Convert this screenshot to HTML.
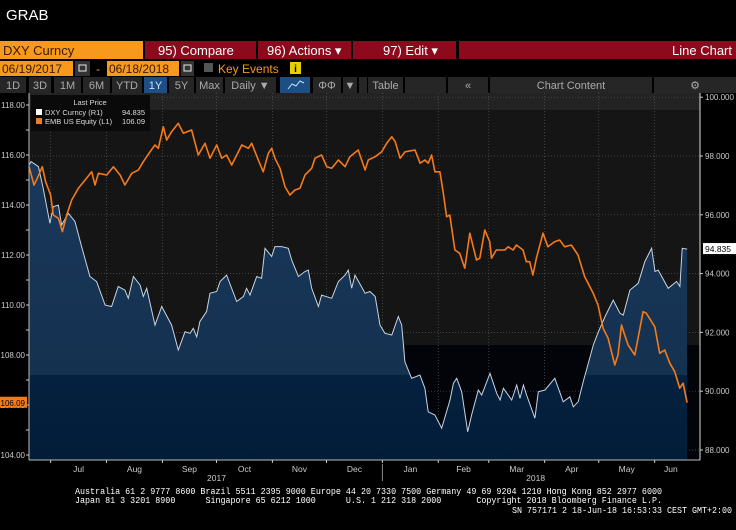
<!DOCTYPE html>
<html><head><meta charset="utf-8"><style>
html,body{margin:0;padding:0;background:#000;width:736px;height:530px;overflow:hidden}
svg{display:block}
text{font-family:"Liberation Sans",sans-serif}
.mono{font-family:"Liberation Mono",monospace}
</style></head><body>
<svg id="c" width="736" height="530" xmlns="http://www.w3.org/2000/svg">
<rect width="736" height="530" fill="#000"/>
<text x="6" y="20" fill="#fff" font-size="15">GRAB</text>
<!-- toolbar row 1 -->
<rect x="0" y="41" width="143" height="18" fill="#f7991c"/>
<text x="3" y="55" font-size="13" fill="#3a1a00">DXY Curncy</text>
<rect x="145" y="41" width="111" height="18" fill="#8b0a1c"/>
<text x="158" y="55" font-size="13" fill="#fff">95) Compare</text>
<rect x="258" y="41" width="93" height="18" fill="#8b0a1c"/>
<text x="267" y="55" font-size="13" fill="#fff">96) Actions ▾</text>
<rect x="353" y="41" width="103" height="18" fill="#8b0a1c"/>
<text x="383" y="55" font-size="13" fill="#fff">97) Edit   ▾</text>
<rect x="459" y="41" width="277" height="18" fill="#8b0a1c"/>
<text x="732" y="55" font-size="13" fill="#fff" text-anchor="end">Line Chart</text>
<!-- row 2 -->
<rect x="0" y="61" width="73" height="15" fill="#f7991c"/>
<text x="2" y="73" font-size="12" fill="#3a1a00">06/19/2017</text>
<rect x="75" y="61" width="15" height="15" fill="#333"/>
<rect x="79" y="65" width="7" height="6" fill="none" stroke="#ccc" stroke-width="1.2"/>
<text x="96" y="73" font-size="12" fill="#f7991c">-</text>
<rect x="107" y="61" width="72" height="15" fill="#f7991c"/>
<text x="109" y="73" font-size="12" fill="#3a1a00">06/18/2018</text>
<rect x="181" y="61" width="13" height="15" fill="#333"/>
<rect x="184" y="65" width="7" height="6" fill="none" stroke="#ccc" stroke-width="1.2"/>
<rect x="204" y="63" width="9" height="9" fill="#555"/>
<text x="218" y="73" font-size="12" fill="#f7991c">Key Events</text>
<rect x="290" y="62" width="11" height="12" fill="#e8d000"/>
<text x="295.5" y="72" font-size="10" fill="#000" text-anchor="middle" font-weight="bold">i</text>
<!-- row 3 -->
<g id="row3" font-size="11" fill="#aaa"></g>
<!-- plot -->
<g id="plot"></g>
<!-- footer -->
<text class="mono" x="75" y="494" font-size="9.5" fill="#fff" textLength="587" lengthAdjust="spacingAndGlyphs">Australia 61 2 9777 8600 Brazil 5511 2395 9000 Europe 44 20 7330 7500 Germany 49 69 9204 1210 Hong Kong 852 2977 6000</text>
<text class="mono" x="75" y="503" font-size="9.5" fill="#fff" xml:space="preserve" textLength="587" lengthAdjust="spacingAndGlyphs">Japan 81 3 3201 8900      Singapore 65 6212 1000      U.S. 1 212 318 2000       Copyright 2018 Bloomberg Finance L.P.</text>
<text class="mono" x="512" y="513" font-size="9.5" fill="#fff" textLength="220" lengthAdjust="spacingAndGlyphs">SN 757171 2 18-Jun-18 16:53:33 CEST GMT+2:00</text>
</svg>
<script>
// DXY (right axis): day offset from 2017-06-19, value
const dxyDays=[0,1.1,5.2,7.9,11.6,13.5,16.3,18.1,21.8,25.5,29.2,33.8,37.5,42.2,45.8,49.5,53.2,55.1,57.9,61.6,63.4,65.3,69.9,73.6,79.1,82.8,86.5,89.3,91.1,93,94.8,98.5,100.4,104.1,106,109.6,115.2,118.9,120.7,122.6,126.3,129,130.9,134.6,136.4,140.1,143.8,145.7,149.4,153.1,154.9,156.8,160.5,162.3,167.9,171.6,175.3,177.1,179,180.8,186.4,189.1,192,194.7,197.4,201.2,204.8,206.7,208.5,212.2,216.8,219.6,221.4,225.1,228.9,233.5,235.4,237.2,240,243.3,245.5,249.2,251.1,255.7,259.4,261.3,263.1,267.7,270.5,272.3,274.2,276,280.6,282.5,286.2,291.6,296.3,300,301.9,304.6,307.4,313,315.8,319.5,324,327.8,329.6,333.3,337.9,341.6,345.3,347.2,349,354.5,359.2,361,362.3,365];
const dxyVals=[97.69,97.81,97.64,96.9,95.71,96.28,96.33,95.65,96.05,95.77,94.92,93.9,93.73,92.93,92.88,93.56,93.44,93.16,93.9,93.61,93.22,93.5,92.25,92.88,92.25,91.4,92.02,91.97,92.14,91.85,92.37,92.71,93.33,93.39,93.73,93.95,93.05,93.22,93.5,93.27,93.9,93.84,94.86,94.58,94.92,94.92,94.86,94.46,93.9,94.07,94.12,93.5,92.88,93.27,93.16,93.73,93.95,94.12,93.5,93.95,93.33,93.39,93.22,92.25,91.97,91.91,92.54,92.25,91,90.44,90.55,90.1,89.3,89.19,88.74,89.7,90.27,90.44,89.98,88.62,89.19,90.04,89.87,90.61,89.93,89.7,90.1,89.7,90.21,89.76,90.21,89.87,89.08,89.98,90.04,90.44,89.64,89.81,89.47,89.64,90.32,91.57,92.02,92.54,93.1,92.65,92.59,93.44,93.67,94.41,94.86,94.07,94.12,93.5,93.73,93.56,94.86,94.835];
// EMB (left axis)
const embDays=[0,2.8,4.6,7.4,9.2,12,13.5,16.3,18.5,20.9,23.7,27.4,31.1,34.8,36.6,38.5,43.1,46.8,50.5,53.2,57,60.7,63.4,67.1,69.9,71.7,74.5,76.4,79.1,82.8,85.6,90.2,93.9,97.6,100.4,104.1,106.9,109.6,112.4,118,121.7,123.5,127.2,129.9,132.7,134.6,136.4,139.2,142,144.7,147.5,150.3,153.1,156.8,158.6,162.3,165.1,167.9,171.6,175.3,178,182.6,186.4,188.2,192,195.6,198.4,201.2,203.1,205.8,208.6,214.1,216.9,219.6,221.4,223.3,225.1,227.9,229.7,231.6,233.4,236.2,238.9,241.7,244.5,248.2,250,252.8,255.5,256.5,259.2,263.9,265.7,268.5,270.3,274,275.8,277.7,279.5,281.4,285.1,287.8,291.5,294.3,297.1,300.8,304.5,308.2,312.9,315.6,318.4,321.2,324.9,326.7,328.6,330.4,332.3,336,340.6,342.4,347.1,349.8,352.6,355.4,358.2,360.9,362.8,365];
const embVals=[115.53,114.8,115.07,115.53,114.93,114.4,113.6,113.47,112.93,113.6,114.2,114.67,115,115.33,114.8,115.27,115.2,115.53,115.2,114.8,115.27,115.4,115.73,116.13,116.4,116.27,117.13,116.6,116.93,117.27,116.87,117,116,116.47,115.87,116.4,115.87,116,115.6,116.4,116.27,116.47,115.8,115.33,116.07,116.27,115.87,115.47,114.73,114.4,114.6,114.67,115.2,115.47,115.87,116,115.53,115.47,115.8,115.53,115.93,116.2,115.4,115.8,115.93,116.13,116.47,116.73,116.53,115.87,116.13,116.2,115.67,115.8,115.67,116,115.33,115.33,114.53,113.53,113.6,112.2,112.07,111.47,112.87,111.8,111.87,113,112.53,111.87,112.2,112.2,112.33,112.2,112.4,112.2,111.73,111.73,111.2,111.87,112.87,112.33,112.53,112.6,112.33,112.4,112,111.13,110.47,110,109.07,108.67,107.6,108,109.2,108.8,108.4,108,109.73,109.67,109.13,108.07,108.2,107.67,107.33,106.67,106.87,106.09];
const leftTicks=[104,106,108,110,112,114,116,118];
const rightTicks=[88,90,92,94,96,98,100];
const monthNames=["Jul","Aug","Sep","Oct","Nov","Dec","Jan","Feb","Mar","Apr","May","Jun"];
const monthStarts=[12,43,74,104,135,165,196,227,255,286,316,347];
const monthEnds=[43,74,104,135,165,196,227,255,286,316,347,377];
const yearLabels=["2017","2018"];

const NS="http://www.w3.org/2000/svg";
const X0=29,X1=700,Y0=93,Y1=460;
const xS=d=>29+d*1.803;
const yL=v=>105+(118-v)*25;
const yR=v=>450-(v-88)*29.4;
function mk(tag,attrs,parent){const e=document.createElementNS(NS,tag);for(const k in attrs)e.setAttribute(k,attrs[k]);parent.appendChild(e);return e;}
const svg=document.getElementById('c');
const plot=document.getElementById('plot');
const row3=document.getElementById('row3');

// row 3 buttons
const btns=[["1D",0,26],["3D",29,22],["1M",54,27],["6M",83,27],["YTD",112,30],["1Y",144,23],["5Y",169,25],["Max",196,27],["Daily ▼",225,51],["",280,30],["ΦΦ",313,28],["▼",343,14],["",359,8],["Table",368,35],["",405,41],["«",448,40],["Chart Content",490,162],["⚙",654,82]];
btns.forEach((b,i)=>{
  const sel=(b[0]==="1Y"||i===9);
  const r=mk('rect',{x:b[1],y:77,width:b[2],height:16,fill:sel?"#1d4f85":"#262626"},row3);
  
  
  const t=mk('text',{x:b[1]+b[2]/2,y:89,'text-anchor':'middle','font-size':11,fill:sel?"#cfe3ff":"#aaa"},row3);
  t.textContent=b[0];
  
  
});
// line-chart icon
mk('polyline',{points:"288,89 292,84 296,86 300,81 304,83",fill:"none",stroke:"#cfe3ff","stroke-width":1},row3);

// backgrounds
const bg=mk('rect',{x:X0,y:Y0,width:X1-X0,height:Y1-Y0,fill:"#151515"},plot);


mk('rect',{x:X0,y:Y0,width:X1-X0,height:17,fill:"#232323"},plot);
mk('rect',{x:405,y:345,width:X1-405,height:Y1-345,fill:"#02040a"},plot);

// grid
monthStarts.forEach(d=>{
  const g=mk('line',{x1:xS(d),x2:xS(d),y1:Y0,y2:Y1,stroke:"#555","stroke-width":0.7,"stroke-dasharray":"1,2"},plot);
  
  
});
rightTicks.forEach(v=>{
  const g=mk('line',{x1:X0,x2:X1,y1:yR(v),y2:yR(v),stroke:"#555","stroke-width":0.7,"stroke-dasharray":"1,2"},plot);
  
  
});

// DXY area
const defs=mk('defs',{},svg);
const grad=mk('linearGradient',{id:'ag',x1:0,y1:Y0,x2:0,y2:Y1,gradientUnits:'userSpaceOnUse'},defs);
mk('stop',{offset:0,'stop-color':'#1a3a5e'},grad);
mk('stop',{offset:(375-Y0)/(Y1-Y0),'stop-color':'#153150'},grad);
mk('stop',{offset:(375-Y0)/(Y1-Y0),'stop-color':'#04213f'},grad);
mk('stop',{offset:1,'stop-color':'#031d38'},grad);
let dLine="";
dxyDays.forEach((d,i)=>{dLine+=(i?"L":"M")+xS(d).toFixed(1)+","+yR(dxyVals[i]).toFixed(1);});
const area=mk('path',{d:dLine+"L"+xS(dxyDays[dxyDays.length-1]).toFixed(1)+","+Y1+"L"+X0+","+Y1+"Z",fill:"url(#ag)"},plot);


const dl=mk('path',{d:dLine,fill:"none",stroke:"#c8d4e2","stroke-width":1},plot);


let eLine="";
embDays.forEach((d,i)=>{eLine+=(i?"L":"M")+xS(d).toFixed(1)+","+yL(embVals[i]).toFixed(1);});
const el=mk('path',{d:eLine,fill:"none",stroke:"#f57a1a","stroke-width":1.6,"stroke-linejoin":"round"},plot);



// axes frame
mk('line',{x1:X0,x2:X0,y1:Y0,y2:Y1,stroke:"#bbb","stroke-width":1},plot);
mk('line',{x1:X1,x2:X1,y1:Y0,y2:Y1,stroke:"#ddd","stroke-width":1},plot);
mk('line',{x1:X0,x2:X1,y1:Y1,y2:Y1,stroke:"#bbb","stroke-width":1},plot);

// left axis
for(let v=104;v<=118;v++){mk('line',{x1:X0-3,x2:X0,y1:yL(v),y2:yL(v),stroke:"#ccc","stroke-width":1},plot);}
leftTicks.forEach(v=>{
  const t=mk('text',{x:X0-4,y:yL(v)+3,'text-anchor':'end','font-size':8,fill:"#ccc"},plot);
  t.textContent=v.toFixed(2);
  
  
});
// right axis
rightTicks.forEach(v=>{
  mk('line',{x1:X1,x2:X1+3,y1:yR(v),y2:yR(v),stroke:"#ccc","stroke-width":1},plot);
  const t=mk('text',{x:X1+5,y:yR(v)+3,'font-size':8,fill:"#ccc"},plot);
  t.textContent=v.toFixed(3);
  
  
});
// last-value labels
const lastD=dxyVals[dxyVals.length-1], lastE=embVals[embVals.length-1];
const rb=mk('rect',{x:X1+3,y:yR(lastD)-6,width:33,height:11,fill:"#fff"},plot);


const rt=mk('text',{x:X1+5,y:yR(lastD)+3,'font-size':8.5,fill:"#000"},plot);
rt.textContent=lastD.toFixed(3);
const lb=mk('rect',{x:0,y:yL(lastE)-6,width:X0-2,height:11,fill:"#f57a1a"},plot);


const lt=mk('text',{x:X0-4,y:yL(lastE)+3,'text-anchor':'end','font-size':8,fill:"#000"},plot);
lt.textContent=lastE.toFixed(2);

// x axis months
monthNames.forEach((m,i)=>{
  mk('line',{x1:xS(monthStarts[i]),x2:xS(monthStarts[i]),y1:Y1,y2:Y1+3,stroke:"#ccc"},plot);
  const mid=(monthStarts[i]+Math.min(monthEnds[i],365))/2;
  const t=mk('text',{x:xS(mid),y:Y1+12,'text-anchor':'middle','font-size':8.5,fill:"#ccc"},plot);
  t.textContent=m;
  
  
});
mk('line',{x1:xS(196),x2:xS(196),y1:Y1+4,y2:Y1+21,stroke:"#888"},plot);
[[xS(104),yearLabels[0]],[xS(281),yearLabels[1]]].forEach(p=>{
  const t=mk('text',{x:p[0],y:Y1+21,'text-anchor':'middle','font-size':8.5,fill:"#ccc"},plot);
  t.textContent=p[1];
  
  
});

// legend
const lg=mk('g',{},plot);


mk('rect',{x:X0+2,y:Y0+2,width:119,height:36,fill:"#0a0a0a"},lg);
const lt1=mk('text',{x:90,y:105,'text-anchor':'middle','font-size':7.5,fill:"#ddd"},lg);lt1.textContent="Last Price";
mk('rect',{x:36,y:109,width:6,height:6,fill:"#fff"},lg);
const e1=mk('text',{x:45,y:115,'font-size':7.5,fill:"#ddd"},lg);e1.textContent="DXY Curncy  (R1)";


const v1=mk('text',{x:145,y:115,'text-anchor':'end','font-size':7.5,fill:"#ddd"},lg);v1.textContent="94.835";
mk('rect',{x:36,y:118,width:6,height:6,fill:"#f57a1a"},lg);
const e2=mk('text',{x:45,y:124,'font-size':7.5,fill:"#ddd"},lg);e2.textContent="EMB US Equity  (L1)";


const v2=mk('text',{x:145,y:124,'text-anchor':'end','font-size':7.5,fill:"#ddd"},lg);v2.textContent="106.09";
</script>
</body></html>
